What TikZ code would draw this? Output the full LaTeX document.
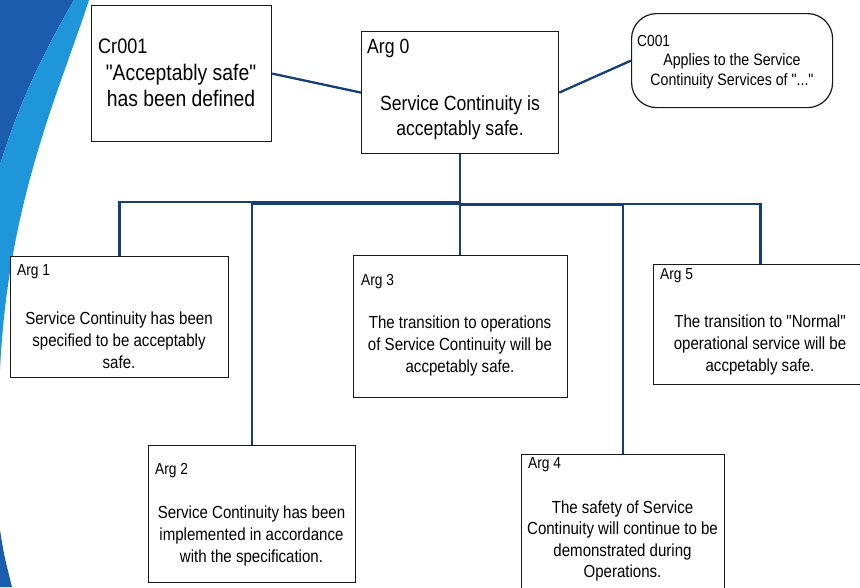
\documentclass[tikz,border=0pt]{standalone}
\usepackage{fontspec}
\setmainfont{Liberation Sans}[FakeStretch=0.86, Ligatures=TeXOff]
\definecolor{linkblue}{RGB}{22,63,115}
\definecolor{swdark}{RGB}{27,92,172}
\definecolor{swlight}{RGB}{32,150,218}
\tikzset{
  box/.style={draw=black!90, line width=1.2pt, fill=white, anchor=north west, inner sep=0pt},
  tag/.style={anchor=west, inner sep=0pt},
  body/.style={align=center, inner sep=0pt},
  link/.style={draw=linkblue, line width=2.3pt},
}
\newcommand{\fs}[2]{\fontsize{#1}{#2}\selectfont}
\begin{document}
\begin{tikzpicture}[x=1pt,y=-1pt]
\useasboundingbox (0,0) rectangle (860,587);
\begin{scope}
\clip (0,0) rectangle (860,587);

% swoosh along the left edge
\fill[swdark] (0,0) -- (74,0) .. controls (45,50) and (20,100) .. (0,165) -- cycle;
\fill[swlight] (74,0) -- (89,0) .. controls (60,90) and (8,200) .. (0,370)
  -- (0,165) .. controls (20,100) and (45,50) .. (74,0) -- cycle;
\fill[swdark] (0,530) .. controls (4,555) .. (12,587) -- (0,587) -- cycle;

% top row
\node[box, minimum width=180, minimum height=136] (cr001) at (91,5) {};
\node[tag, font=\fs{21}{24}] (cr001tag) at (98,46) {Cr001};
\node[body, font=\fs{22.5}{26}] (cr001txt) at (181,85) {"Acceptably safe"\\has been defined};

\node[box, minimum width=197, minimum height=122] (arg0) at (361,31) {};
\node[tag, font=\fs{20.5}{24}] (arg0tag) at (367,48) {Arg 0};
\node[body, font=\fs{20.5}{25}] (arg0txt) at (460,117.5) {Service Continuity is\\acceptably safe.};

\node[box, rounded corners=25, minimum width=201, minimum height=94] (c001) at (631,13) {};
\node[tag, font=\fs{16}{19}] (c001tag) at (637,41) {C001};
\node[body, font=\fs{16.5}{20}] (c001txt) at (732,71) {Applies to the Service\\Continuity Services of "..."};

% child boxes
\node[box, minimum width=218, minimum height=121] (arg1) at (10,256) {};
\node[tag, font=\fs{16}{19}] (arg1tag) at (17,272) {Arg 1};
\node[body, font=\fs{17.5}{21.8}] (arg1txt) at (119,340) {Service Continuity has been\\specified to be acceptably\\safe.};

\node[box, minimum width=207, minimum height=137] (arg2) at (148,445) {};
\node[tag, font=\fs{16}{19}] (arg2tag) at (155,471) {Arg 2};
\node[body, font=\fs{17.5}{21.8}] (arg2txt) at (251.5,536) {Service Continuity has been\\implemented in accordance\\with the specification.};

\node[box, minimum width=214, minimum height=142] (arg3) at (353,255) {};
\node[tag, font=\fs{16}{19}] (arg3tag) at (361,282) {Arg 3};
\node[body, font=\fs{17.5}{21.8}] (arg3txt) at (460,346) {The transition to operations\\of Service Continuity will be\\accpetably safe.};

\node[box, minimum width=203, minimum height=150] (arg4) at (521,454) {};
\node[tag, font=\fs{16}{19}] (arg4tag) at (528,465) {Arg 4};
\node[body, font=\fs{17.5}{21.2}] (arg4txt) at (622.5,541) {The safety of Service\\Continuity will continue to be\\demonstrated during\\Operations.};

\node[box, minimum width=214, minimum height=120] (arg5) at (653,264) {};
\node[tag, font=\fs{16}{19}] (arg5tag) at (660,276) {Arg 5};
\node[body, font=\fs{17.5}{21.8}] (arg5txt) at (760,345) {The transition to "Normal"\\operational service will be\\accpetably safe.};

% context links
\draw[link] (cr001.east) -- (arg0.west);
\draw[link] (arg0.east) -- (c001.west);

% support links
\draw[link] (arg0.south) -- ++(0,48) -| (arg1.north);
\draw[link] (arg0.south) -- ++(0,49.5) -| (arg2.north);
\draw[link] (arg0.south) -- (arg0.south |- arg3.north);
\draw[link] (arg0.south) -- ++(0,51) -| (arg4.north);
\draw[link] (arg0.south) -- ++(0,50) -| (arg5.north);
\end{scope}
\end{tikzpicture}
\end{document}
